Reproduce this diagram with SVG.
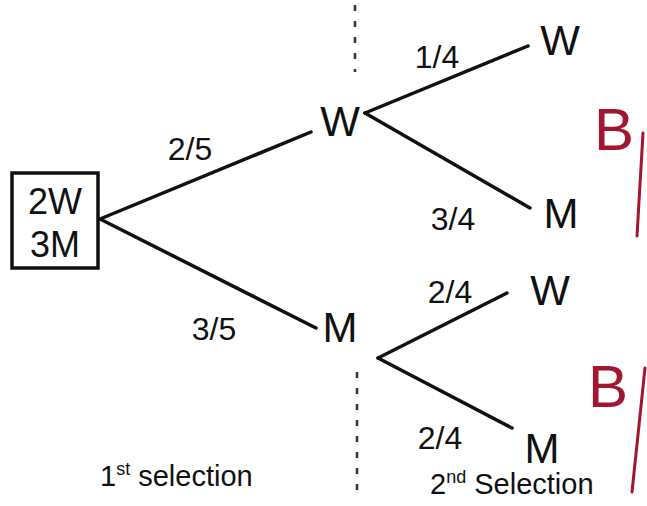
<svg xmlns="http://www.w3.org/2000/svg" width="647" height="506" viewBox="0 0 647 506">
<style>
.node{font-family:"Liberation Sans",Arial,sans-serif;font-size:42px;fill:#111;text-anchor:middle}
.lbl{font-family:"Liberation Sans",Arial,sans-serif;font-size:32px;fill:#111;text-anchor:middle}
.cap{font-family:"Liberation Sans",Arial,sans-serif;font-size:29px;fill:#111}
.edge{stroke:#111;stroke-width:3.5;fill:none;stroke-linecap:round}
.div{stroke:#333;stroke-width:2.5;stroke-dasharray:6 10;fill:none}
.red{font-family:"Liberation Sans",Arial,sans-serif;font-size:60px;fill:#a3162f;text-anchor:middle}
.redl{stroke:#a3162f;stroke-width:3;fill:none;stroke-linecap:round}
</style>
<rect width="647" height="506" fill="#fff"/>
<g id="connectors">
<line class="edge" x1="100" y1="219" x2="311" y2="132"/>
<line class="edge" x1="100" y1="219" x2="316" y2="328"/>
<line class="edge" x1="365" y1="113" x2="528" y2="46"/>
<line class="edge" x1="365" y1="113" x2="530" y2="208"/>
<line class="edge" x1="378" y1="358" x2="507" y2="293"/>
<line class="edge" x1="378" y1="358" x2="512" y2="428"/>
<text class="lbl" x="190" y="160">2/5</text>
<text class="lbl" x="214" y="340">3/5</text>
<text class="lbl" x="437" y="68">1/4</text>
<text class="lbl" x="453" y="230">3/4</text>
<text class="lbl" x="450" y="303">2/4</text>
<text class="lbl" x="440" y="449">2/4</text>
</g>
<g id="dividers">
<line class="div" x1="355" y1="5" x2="355" y2="72"/>
<line class="div" x1="357" y1="372" x2="357" y2="498"/>
</g>
<g id="root">
<rect x="12" y="173" width="86" height="95" fill="none" stroke="#111" stroke-width="3.5"/>
<text class="node" x="55" y="214" style="font-size:36px">2W</text>
<text class="node" x="55" y="257" style="font-size:36px">3M</text>
</g>
<g id="n1W"><text class="node" x="340" y="136">W</text></g>
<g id="n1M"><text class="node" x="340" y="342">M</text></g>
<g id="n2WW"><text class="node" x="560" y="55">W</text></g>
<g id="n2WM"><text class="node" x="561" y="228">M</text></g>
<g id="n2MW"><text class="node" x="550" y="305">W</text></g>
<g id="n2MM"><text class="node" x="542" y="463">M</text></g>
<g id="captions">
<text class="cap" x="100" y="486">1<tspan dy="-11" font-size="18">st</tspan><tspan dy="11"> selection</tspan></text>
<text class="cap" x="430" y="494">2<tspan dy="-11" font-size="18">nd</tspan><tspan dy="11"> Selection</tspan></text>
</g>
<g id="marks">
<text class="red" x="614" y="150">B</text>
<line class="redl" x1="643" y1="133" x2="637" y2="236"/>
<text class="red" x="608" y="407">B</text>
<line class="redl" x1="645" y1="368" x2="632" y2="492"/>
</g>
</svg>
